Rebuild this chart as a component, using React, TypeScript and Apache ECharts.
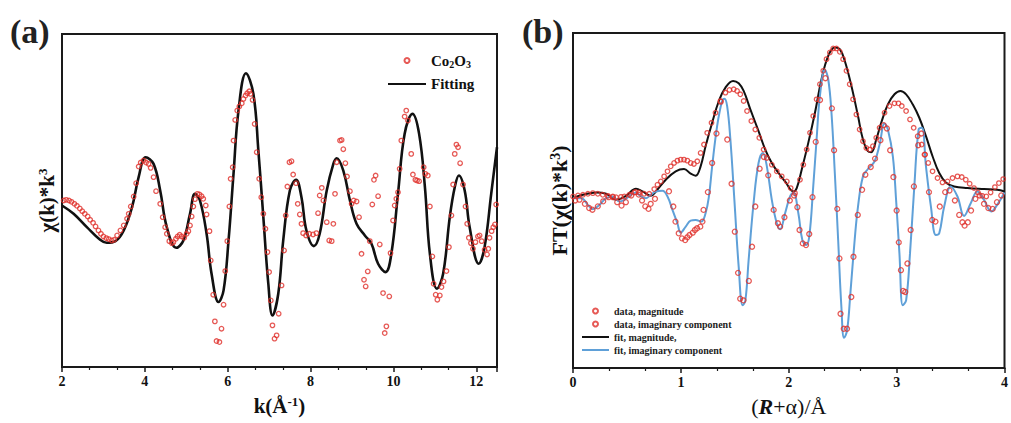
import React, { useEffect, useRef } from 'react';
import * as echarts from 'echarts';

const FONT = '"Liberation Serif", "Times New Roman", serif';
const RED = '#e0302a';
const BLUE = '#5fa0d8';

// Panel (a): k (1/Å) vs chi(k)*k^3 (arbitrary units)
const chiFit: [number, number][] = [
  [2.00, -0.30], [2.28, -0.80], [2.60, -1.60], [2.92, -2.36], [3.08, -2.54], [3.29, -2.44], [3.49, -1.80],
  [3.69, -0.40], [3.85, 1.40], [4.02, 2.60], [4.21, 2.20], [4.37, 0.60], [4.53, -1.60], [4.76, -2.84],
  [4.93, -2.40], [5.09, -0.80], [5.21, 0.40], [5.33, 0.00], [5.49, -2.00], [5.61, -4.40], [5.78, -6.10],
  [5.90, -5.40], [6.02, -2.40], [6.14, 1.60], [6.26, 5.40], [6.44, 7.64], [6.62, 6.40], [6.74, 3.00],
  [6.86, -1.00], [6.98, -5.00], [7.08, -6.90], [7.22, -5.60], [7.34, -2.40], [7.50, 0.60], [7.65, 1.24],
  [7.78, 0.20], [7.90, -1.80], [8.08, -2.74], [8.22, -2.00], [8.39, 0.60], [8.55, 2.20], [8.63, 2.54],
  [8.79, 1.80], [8.95, 0.00], [9.11, -1.40], [9.31, -2.10], [9.47, -2.60], [9.63, -3.80], [9.81, -4.30],
  [9.95, -3.20], [10.11, 0.40], [10.27, 4.00], [10.46, 5.20], [10.62, 4.00], [10.76, 0.80], [10.88, -3.20],
  [11.05, -5.30], [11.20, -4.40], [11.36, -1.00], [11.48, 0.80], [11.58, 1.50], [11.72, 0.60], [11.84, -1.60],
  [12.06, -3.80], [12.20, -2.80], [12.36, 0.40], [12.50, 3.20],
];

const chiData: [number, number][] = [
  [2.04, 0.00], [2.10, 0.04], [2.17, 0.00], [2.23, -0.08], [2.30, -0.20], [2.36, -0.32], [2.43, -0.48],
  [2.49, -0.64], [2.55, -0.80], [2.62, -0.96], [2.68, -1.16], [2.75, -1.34], [2.81, -1.56], [2.88, -1.80],
  [2.94, -2.00], [3.00, -2.16], [3.07, -2.26], [3.13, -2.32], [3.20, -2.40], [3.26, -2.36], [3.33, -2.10],
  [3.41, -1.80], [3.49, -1.50], [3.57, -1.10], [3.61, -0.80], [3.66, -0.36], [3.73, 0.24], [3.79, 1.04],
  [3.85, 2.04], [3.90, 2.28], [3.97, 2.40], [4.03, 2.28], [4.09, 2.20], [4.14, 1.96], [4.21, 1.40],
  [4.27, 0.56], [4.37, -0.20], [4.43, -1.00], [4.49, -1.60], [4.53, -2.00], [4.59, -2.44], [4.65, -2.56],
  [4.69, -2.50], [4.75, -2.30], [4.79, -2.16], [4.84, -2.06], [4.89, -2.16], [4.95, -2.24], [5.01, -2.00],
  [5.05, -1.84], [5.09, -1.50], [5.13, -0.96], [5.17, -0.36], [5.21, 0.08], [5.27, 0.40], [5.32, 0.36],
  [5.37, 0.26], [5.41, 0.10], [5.47, -0.30], [5.49, -0.84], [5.56, -1.84], [5.59, -3.60], [5.65, -5.66],
  [5.69, -7.26], [5.73, -8.44], [5.80, -8.50], [5.85, -7.70], [5.90, -6.26], [5.94, -4.24], [5.99, -2.44],
  [6.04, -0.36], [6.07, 1.30], [6.12, 2.00], [6.14, 3.60], [6.18, 4.84], [6.23, 5.40], [6.28, 5.64],
  [6.34, 5.84], [6.38, 6.10], [6.43, 6.30], [6.47, 6.44], [6.52, 6.56], [6.55, 6.40], [6.60, 6.04],
  [6.65, 4.60], [6.70, 2.90], [6.76, 1.30], [6.81, 0.20], [6.86, -0.80], [6.91, -1.70], [6.96, -3.10],
  [7.00, -4.30], [7.04, -6.00], [7.08, -7.50], [7.13, -8.30], [7.18, -8.10], [7.23, -6.80], [7.30, -5.10],
  [7.36, -3.00], [7.40, -0.90], [7.44, 0.84], [7.49, 2.30], [7.54, 2.36], [7.58, 1.56], [7.65, 1.04],
  [7.69, -0.20], [7.74, -0.84], [7.78, -1.40], [7.82, -1.96], [7.89, -2.10], [7.97, -2.00], [8.06, -2.04],
  [8.14, -1.96], [8.18, -0.76], [8.22, 0.30], [8.27, 0.76], [8.31, 0.00], [8.39, -1.30], [8.45, -2.40],
  [8.51, -2.44], [8.55, -1.40], [8.59, 0.40], [8.63, 2.30], [8.71, 3.60], [8.75, 3.64], [8.79, 3.08],
  [8.84, 2.24], [8.88, 1.44], [8.95, 0.56], [8.99, -0.20], [9.04, 0.00], [9.11, -0.06], [9.17, -1.00],
  [9.23, -3.20], [9.29, -4.76], [9.33, -5.16], [9.38, -4.26], [9.43, -2.44], [9.49, -0.24], [9.53, 1.24],
  [9.57, 1.50], [9.63, 0.26], [9.67, -2.64], [9.75, -5.56], [9.79, -7.96], [9.83, -7.56], [9.90, -5.76],
  [9.93, -3.16], [9.99, -1.20], [10.03, -0.30], [10.07, 0.10], [10.11, 0.50], [10.15, 1.90], [10.19, 3.60],
  [10.27, 5.04], [10.31, 5.40], [10.35, 4.80], [10.43, 2.80], [10.47, 1.56], [10.53, 1.24], [10.57, 1.20],
  [10.62, 1.16], [10.73, 2.00], [10.77, 1.60], [10.83, 1.50], [10.88, -0.36], [10.94, -3.36], [10.97, -5.00],
  [11.02, -5.66], [11.06, -5.96], [11.12, -5.70], [11.16, -5.20], [11.21, -4.86], [11.28, -4.24], [11.34, -2.80],
  [11.40, -0.90], [11.44, 0.96], [11.48, 2.80], [11.52, 3.36], [11.56, 3.20], [11.61, 2.24], [11.68, 0.96],
  [11.74, -0.36], [11.78, -1.40], [11.82, -2.24], [11.87, -2.56], [11.92, -2.90], [11.98, -2.50], [12.04, -2.16],
  [12.08, -2.10], [12.13, -2.44], [12.20, -2.96], [12.26, -3.24], [12.29, -2.90], [12.32, -2.24], [12.37, -1.84],
  [12.41, -1.60], [12.45, -1.44], [12.48, -0.24],
];

// Panel (b): R+alpha (Å) vs FT(chi(k)*k^3) (arbitrary units)
const magFit: [number, number][] = [
  [0.000, 0.14], [0.092, 0.34], [0.215, 0.48], [0.307, 0.40], [0.399, 0.04], [0.491, 0.28], [0.584, 0.70],
  [0.645, 0.54], [0.722, 0.28], [0.768, 0.54], [0.860, 1.24], [0.952, 1.74], [1.029, 1.88], [1.091, 1.60],
  [1.137, 1.48], [1.183, 2.04], [1.229, 3.24], [1.290, 4.64], [1.352, 5.94], [1.413, 6.74], [1.484, 7.14],
  [1.536, 7.00], [1.582, 6.54], [1.644, 5.44], [1.720, 4.14], [1.782, 3.04], [1.843, 2.24], [1.905, 1.64],
  [1.966, 1.14], [2.043, 0.54], [2.074, 0.74], [2.120, 1.84], [2.181, 3.44], [2.243, 5.24], [2.304, 7.24],
  [2.366, 8.64], [2.427, 9.14], [2.473, 9.04], [2.519, 8.34], [2.581, 6.84], [2.642, 5.04], [2.688, 3.64],
  [2.734, 2.94], [2.765, 2.88], [2.811, 3.64], [2.857, 4.64], [2.919, 5.74], [2.980, 6.34], [3.035, 6.54],
  [3.088, 6.34], [3.149, 5.74], [3.210, 4.94], [3.272, 3.84], [3.333, 2.64], [3.395, 1.64], [3.456, 1.08],
  [3.533, 0.84], [3.656, 0.74], [3.810, 0.68], [3.932, 0.64], [4.000, 0.54],
];

const imagFit: [number, number][] = [
  [0.000, 0.14], [0.077, 0.14], [0.138, -0.26], [0.184, -0.52], [0.246, -0.26], [0.307, 0.14], [0.369, 0.24],
  [0.430, -0.06], [0.476, 0.04], [0.538, 0.34], [0.584, 0.48], [0.630, 0.24], [0.676, 0.14], [0.722, 0.34],
  [0.768, 0.54], [0.829, 0.58], [0.876, 0.24], [0.922, -0.56], [0.968, -1.36], [0.998, -1.92], [1.045, -1.56],
  [1.091, -1.20], [1.137, -1.16], [1.189, -1.26], [1.229, -0.76], [1.260, 0.24], [1.290, 2.04], [1.336, 4.44],
  [1.382, 5.94], [1.404, 6.08], [1.429, 5.64], [1.459, 3.64], [1.496, 0.04], [1.536, -3.96], [1.573, -6.26],
  [1.598, -5.96], [1.628, -3.56], [1.674, -0.16], [1.720, 2.24], [1.760, 2.84], [1.797, 2.04], [1.843, 0.04],
  [1.889, -1.36], [1.920, -1.72], [1.966, -0.76], [2.012, 0.24], [2.043, 0.48], [2.089, -0.76], [2.126, -2.36],
  [2.160, -2.66], [2.190, -2.16], [2.227, 0.84], [2.258, 3.64], [2.289, 6.24], [2.335, 7.80], [2.366, 7.24],
  [2.396, 5.24], [2.427, 1.64], [2.458, -2.36], [2.488, -6.36], [2.513, -8.20], [2.541, -7.76], [2.571, -5.56],
  [2.611, -2.36], [2.642, -0.36], [2.688, 1.44], [2.734, 1.88], [2.796, 2.34], [2.842, 3.34], [2.888, 4.60],
  [2.919, 4.24], [2.965, 2.64], [2.995, 0.04], [3.026, -3.16], [3.057, -6.26], [3.088, -5.96], [3.124, -3.16],
  [3.164, 0.84], [3.204, 4.24], [3.235, 4.34], [3.272, 2.04], [3.318, -0.36], [3.364, -2.06], [3.395, -1.96],
  [3.441, -0.36], [3.502, 0.84], [3.564, 0.24], [3.625, -0.92], [3.687, -0.16], [3.748, 0.54], [3.810, 0.04],
  [3.877, -0.66], [3.932, -0.26], [4.000, 0.48],
];

const magData: [number, number][] = [
  [0.000, 0.24], [0.046, 0.30], [0.092, 0.34], [0.138, 0.40], [0.184, 0.44], [0.230, 0.40], [0.276, 0.34],
  [0.323, 0.28], [0.369, 0.24], [0.399, 0.20], [0.445, 0.22], [0.476, 0.24], [0.522, 0.34], [0.568, 0.48],
  [0.614, 0.48], [0.660, 0.40], [0.707, 0.40], [0.753, 0.68], [0.783, 0.94], [0.814, 1.14], [0.845, 1.44],
  [0.876, 1.74], [0.906, 2.04], [0.937, 2.24], [0.968, 2.38], [0.998, 2.44], [1.029, 2.44], [1.060, 2.38],
  [1.091, 2.24], [1.121, 2.18], [1.152, 2.34], [1.183, 2.84], [1.214, 3.34], [1.244, 4.04], [1.284, 4.64],
  [1.321, 5.24], [1.367, 5.94], [1.413, 6.44], [1.450, 6.60], [1.490, 6.64], [1.521, 6.54], [1.551, 6.34],
  [1.582, 5.94], [1.613, 5.34], [1.653, 4.74], [1.690, 4.24], [1.727, 3.74], [1.767, 3.04], [1.797, 2.54],
  [1.843, 2.14], [1.889, 1.74], [1.935, 1.44], [1.982, 1.14], [2.018, 0.74], [2.058, 0.44], [2.104, 1.24],
  [2.135, 2.14], [2.166, 3.04], [2.197, 4.04], [2.227, 5.04], [2.258, 6.04], [2.289, 6.94], [2.320, 7.74],
  [2.350, 8.44], [2.381, 8.84], [2.412, 9.08], [2.442, 9.08], [2.473, 8.88], [2.504, 8.44], [2.535, 7.74],
  [2.565, 6.94], [2.596, 6.04], [2.627, 5.14], [2.657, 4.24], [2.688, 3.54], [2.719, 3.14], [2.750, 3.04],
  [2.780, 3.24], [2.811, 3.74], [2.842, 4.34], [2.888, 5.24], [2.934, 5.64], [2.980, 5.80], [3.017, 5.80],
  [3.048, 5.64], [3.088, 5.34], [3.124, 4.84], [3.158, 4.34], [3.195, 3.84], [3.232, 3.34], [3.263, 2.74],
  [3.293, 2.24], [3.333, 1.74], [3.379, 1.34], [3.425, 1.08], [3.472, 1.14], [3.518, 1.34], [3.564, 1.44],
  [3.604, 1.40], [3.641, 1.24], [3.677, 1.00], [3.717, 0.74], [3.754, 0.48], [3.794, 0.28], [3.831, 0.24],
  [3.871, 0.48], [3.911, 0.80], [3.948, 1.04], [3.988, 1.28],
];

const imagData: [number, number][] = [
  [0.02, 0.00], [0.06, 0.05], [0.11, -0.20], [0.15, -0.45], [0.18, -0.55], [0.23, -0.35], [0.28, -0.05],
  [0.33, 0.20], [0.37, 0.20], [0.41, -0.10], [0.45, -0.30], [0.49, -0.10], [0.54, 0.30], [0.58, 0.50],
  [0.61, 0.35], [0.64, 0.00], [0.67, -0.35], [0.70, -0.50], [0.72, -0.20], [0.76, 0.10], [0.89, 0.55],
  [0.93, -0.36], [0.95, -1.26], [0.98, -1.96], [1.01, -2.26], [1.04, -2.36], [1.06, -2.20], [1.08, -2.06],
  [1.11, -1.92], [1.13, -1.76], [1.15, -1.66], [1.18, -1.56], [1.20, -1.26], [1.21, -0.56], [1.25, 0.50],
  [1.29, 2.24], [1.33, 4.00], [1.37, 5.90], [1.43, 3.64], [1.47, 1.00], [1.50, -1.86], [1.53, -4.32],
  [1.55, -5.86], [1.58, -5.96], [1.63, -4.80], [1.66, -2.76], [1.69, -0.36], [1.73, 1.90], [1.77, 2.60],
  [1.81, 1.50], [1.86, -0.56], [1.90, -1.36], [1.92, -1.56], [1.96, -1.00], [2.01, 0.00], [2.05, 0.30],
  [2.08, -0.40], [2.10, -1.76], [2.13, -2.56], [2.16, -2.66], [2.19, -2.00], [2.22, 0.20], [2.25, 3.50],
  [2.29, 6.00], [2.34, 7.30], [2.40, 5.50], [2.42, 3.00], [2.45, -0.50], [2.47, -3.46], [2.48, -6.76],
  [2.51, -7.66], [2.54, -7.66], [2.58, -5.76], [2.60, -3.36], [2.64, -0.86], [2.68, 0.64], [2.71, 1.54],
  [2.76, 2.00], [2.80, 2.50], [2.85, 3.60], [2.88, 4.50], [2.91, 4.30], [2.94, 3.00], [2.97, 1.40],
  [3.00, -0.60], [3.02, -2.50], [3.04, -4.16], [3.06, -5.40], [3.08, -5.46], [3.10, -3.76], [3.13, -1.76],
  [3.16, 0.84], [3.20, 3.30], [3.23, 4.00], [3.26, 2.74], [3.30, 0.50], [3.33, -1.16], [3.36, -1.26],
  [3.40, -0.36], [3.45, 0.50], [3.49, 0.60], [3.54, 0.00], [3.58, -0.86], [3.61, -1.30], [3.63, -1.50],
  [3.66, -1.30], [3.69, -0.60], [3.73, 0.10], [3.77, 0.30], [3.81, -0.20], [3.85, -0.45], [3.89, -0.50],
  [3.93, -0.10], [3.97, 0.30],
];

const kTicks = { min: 2, max: 12.5, interval: 2 };
const rTicks = { min: 0, max: 4, interval: 1 };

const hollow = (size: number) => ({
  symbol: 'circle',
  symbolSize: size,
  itemStyle: { color: 'rgba(255,255,255,0)', borderColor: RED, borderWidth: 1.3 },
});

const noMarker = { color: 'rgba(0,0,0,0)', borderWidth: 0, opacity: 0 };

const xAxisBase = (gridIndex: number, showMax: boolean) => ({
  type: 'value',
  gridIndex,
  axisLine: { show: true, onZero: false, lineStyle: { color: '#1a1a1a', width: 2 } },
  axisTick: { show: true, inside: false, length: 5, lineStyle: { color: '#1a1a1a', width: 1.5 } },
  minorTick: { show: true, splitNumber: 3, length: 3, lineStyle: { color: '#1a1a1a', width: 1.2 } },
  splitLine: { show: false },
  axisLabel: {
    margin: 7, fontSize: 14, fontWeight: 'bold', color: '#111', fontFamily: FONT, showMaxLabel: showMax,
  },
  nameLocation: 'middle',
});

const yAxisBase = (gridIndex: number) => ({
  type: 'value',
  gridIndex,
  min: -10,
  max: 10,
  axisLine: { show: true, onZero: false, lineStyle: { color: '#1a1a1a', width: 2 } },
  axisTick: { show: false },
  axisLabel: { show: false },
  splitLine: { show: false },
  nameLocation: 'middle',
});

export default function App() {
  const ref = useRef<HTMLDivElement>(null);
  useEffect(() => {
    document.body.style.margin = '0';
    const chart = echarts.init(ref.current!, null, { renderer: 'svg' });
    const option: any = {
      animation: false,
      backgroundColor: '#fff',
      grid: [
        { left: 62, top: 34, width: 435, height: 333, show: true, borderColor: '#1a1a1a', borderWidth: 2 },
        { left: 573, top: 33, width: 434, height: 335, show: true, borderColor: '#1a1a1a', borderWidth: 2 },
      ],
      xAxis: [
        {
          ...xAxisBase(0, false), ...kTicks,
          name: '{b|k(Å}{s|-1}{b|)}', nameGap: 28,
          nameTextStyle: {
            rich: {
              b: { fontSize: 21, fontWeight: 'bold', fontFamily: FONT, color: '#111' },
              s: { fontSize: 13, fontWeight: 'bold', fontFamily: FONT, color: '#111', verticalAlign: 'top' },
            },
          },
        },
        {
          ...xAxisBase(1, true), ...rTicks,
          name: '{r|(}{i|R}{r|+α)/Å}', nameGap: 27,
          nameTextStyle: {
            rich: {
              r: { fontSize: 22, fontFamily: FONT, color: '#111' },
              i: { fontSize: 22, fontFamily: FONT, fontWeight: 'bold', fontStyle: 'italic', color: '#111' },
            },
          },
        },
      ],
      yAxis: [
        {
          ...yAxisBase(0),
          name: '{b|χ(k)*k}{s|3}', nameGap: 5,
          nameTextStyle: {
            rich: {
              b: { fontSize: 21, fontWeight: 'bold', fontFamily: FONT, color: '#111' },
              s: { fontSize: 13, fontWeight: 'bold', fontFamily: FONT, color: '#111', verticalAlign: 'top' },
            },
          },
        },
        {
          ...yAxisBase(1),
          name: '{b|FT(χ(k)*k}{s|3}{b|)}', nameGap: 3,
          nameTextStyle: {
            rich: {
              b: { fontSize: 22, fontWeight: 'bold', fontFamily: FONT, color: '#111' },
              s: { fontSize: 14, fontWeight: 'bold', fontFamily: FONT, color: '#111', verticalAlign: 'top' },
            },
          },
        },
      ],
      legend: [
        {
          data: ['Co2O3', { name: 'Fitting', itemStyle: noMarker }],
          orient: 'vertical',
          left: 382,
          top: 48,
          itemWidth: 38,
          itemHeight: 5,
          itemGap: 7,
          formatter: (name: string) => (name === 'Co2O3' ? '{b|Co}{s|2}{b|O}{s|3}' : '{b|Fitting}'),
          textStyle: {
            rich: {
              b: { fontSize: 15, fontWeight: 'bold', fontFamily: FONT, color: '#111', lineHeight: 18 },
              s: { fontSize: 10, fontWeight: 'bold', fontFamily: FONT, color: '#111', verticalAlign: 'bottom', lineHeight: 18 },
            },
          },
        },
        {
          data: [
            'data, magnitude',
            'data, imaginary component',
            { name: 'fit, magnitude,', itemStyle: noMarker },
            { name: 'fit, imaginary component', itemStyle: noMarker },
          ],
          orient: 'vertical',
          left: 576,
          top: 300,
          itemWidth: 27,
          itemHeight: 5,
          itemGap: 1,
          textStyle: { fontSize: 10, fontWeight: 'bold', fontFamily: FONT, color: '#222', lineHeight: 12 },
        },
      ],
      graphic: [
        { type: 'text', left: 10, top: 14, style: { text: '(a)', font: `bold 34px ${FONT}`, fill: '#222' } },
        { type: 'text', left: 522, top: 14, style: { text: '(b)', font: `bold 34px ${FONT}`, fill: '#222' } },
      ],
      series: [
        {
          name: 'Fitting', type: 'line', xAxisIndex: 0, yAxisIndex: 0, data: chiFit, smooth: 0.4,
          symbol: 'none', lineStyle: { color: '#111', width: 2.6 }, itemStyle: { color: '#111' }, z: 2,
        },
        { name: 'Co2O3', type: 'scatter', xAxisIndex: 0, yAxisIndex: 0, data: chiData, ...hollow(4.5), z: 3 },
        {
          name: 'fit, magnitude,', type: 'line', xAxisIndex: 1, yAxisIndex: 1, data: magFit, smooth: 0.4,
          symbol: 'none', lineStyle: { color: '#111', width: 2 }, itemStyle: { color: '#111' }, z: 2,
        },
        {
          name: 'fit, imaginary component', type: 'line', xAxisIndex: 1, yAxisIndex: 1, data: imagFit, smooth: 0.4,
          symbol: 'none', lineStyle: { color: BLUE, width: 2 }, itemStyle: { color: BLUE }, z: 2,
        },
        { name: 'data, magnitude', type: 'scatter', xAxisIndex: 1, yAxisIndex: 1, data: magData, ...hollow(4.5), z: 3 },
        { name: 'data, imaginary component', type: 'scatter', xAxisIndex: 1, yAxisIndex: 1, data: imagData, ...hollow(5), z: 3 },
      ],
    };
    chart.setOption(option);
    return () => chart.dispose();
  }, []);
  return <div ref={ref} style={{ width: 1011, height: 423 }} />;
}
